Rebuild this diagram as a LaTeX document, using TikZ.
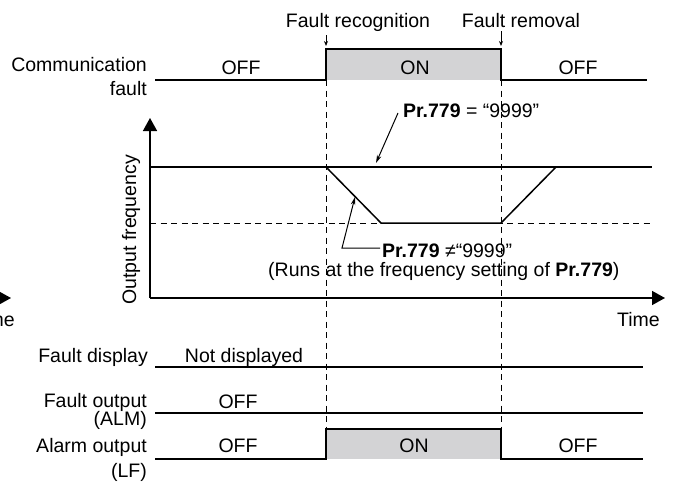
\documentclass[tikz,border=0pt]{standalone}
\usepackage{fontspec}
\setmainfont{Liberation Sans}
\usetikzlibrary{arrows.meta}
\definecolor{onfill}{RGB}{211,211,213}
\begin{document}
\begin{tikzpicture}[x=1pt, y=-1pt,
    lbl/.style={font=\fontsize{19.5}{22}\selectfont, inner sep=0pt},
    sig/.style={line width=1.5pt},
    guide/.style={line width=1pt, dash pattern=on 6pt off 4.5pt},
    axis/.style={line width=1.5pt, -{Triangle[length=13pt,width=14pt]}},
    note/.style={line width=1pt, -{Stealth[length=8pt,width=4.5pt]}},
    tick/.style={line width=1pt, -{Stealth[length=5pt,width=4pt]}}]
  \useasboundingbox (0,0) rectangle (674,482);
  % Event points
  \coordinate (rec) at (326,49);
  \coordinate (rem) at (501,49);
  \node[lbl, anchor=base] (reclbl) at (358,27) {Fault recognition};
  \node[lbl, anchor=base] (remlbl) at (521,27) {Fault removal};
  \draw[tick] ([yshift=-4pt]rec |- reclbl.south) -- ([yshift=3pt]rec);
  \draw[tick] ([yshift=-4pt]rem |- remlbl.south) -- ([yshift=3pt]rem);
  % Communication fault
  \fill[onfill] (326,49) rectangle (501,80);
  \draw[sig] (155,80) -- (326,80) -- (rec) -- (rem) -- (501,80) -- (647,80);
  \node[lbl, anchor=base east] (comm) at (147,71) {Communication};
  \node[lbl, anchor=base east] (commb) at (147,95) {fault};
  \node[lbl, anchor=base] (commoff) at (241,74) {OFF};
  \node[lbl, anchor=base] (common) at (415,74) {ON};
  \node[lbl, anchor=base] (commoff2) at (578,74) {OFF};
  % Guide lines
  \foreach \x in {326, 501} {
    \draw[guide] (\x,80) -- (\x,429);
  }
  % Output frequency
  \draw[guide] (150,223) -- (652,223);
  \draw[sig] (150,167) -- (652,167);
  \coordinate (flat) at (376,167);
  \coordinate (ramp) at (355,197);
  \draw[sig] (326,167) -- (381,223) -- (501,223) -- (556,167);
  \draw[axis] (150,298) -- (150,118);
  \draw[axis] (150,298) -- (665,298);
  \node[lbl, anchor=base, rotate=90] (freq) at (136,230) {Output frequency};
  \node[lbl, anchor=base east] (time) at (660,326) {Time};
  % Cut-off time axis at the left edge
  \draw[axis] (-40,298) -- (11,298);
  \node[lbl, anchor=base east] (time0) at (15,326) {Time};
  % Notes on Pr.779
  \node[lbl, anchor=base west] (eqlbl) at (403,117) {\textbf{Pr.779} = “9999”};
  \node[lbl, anchor=base west] (nelbl) at (382,257) {\textbf{Pr.779} ≠“9999”};
  \node[lbl, anchor=base west] (runs) at (268,276)
    {(Runs at the frequency setting of \textbf{Pr.779})};
  \draw[note] ([shift={(-5,-4)}]eqlbl.base west) -- ([yshift=4pt]flat);
  \draw[note] ([shift={(-2,-9)}]nelbl.base west) -- ++(-38,0) -- (ramp);
  % Fault display
  \draw[sig] (155,367) -- (643,367);
  \node[lbl, anchor=base east] (disp) at (148,362) {Fault display};
  \node[lbl, anchor=base] (displbl) at (244,362) {Not displayed};
  % Fault output (ALM)
  \draw[sig] (155,413) -- (643,413);
  \node[lbl, anchor=base east] (alm) at (147,407) {Fault output};
  \node[lbl, anchor=base east] (almb) at (147,425) {(ALM)};
  \node[lbl, anchor=base] (almoff) at (238,408) {OFF};
  % Alarm output (LF)
  \fill[onfill] (326,429) rectangle (501,459);
  \draw[sig] (155,459) -- (326,459) -- (326,429) -- (501,429) -- (501,459) -- (643,459);
  \node[lbl, anchor=base east] (lf) at (147,452) {Alarm output};
  \node[lbl, anchor=base east] (lfb) at (147,477) {(LF)};
  \node[lbl, anchor=base] (lfoff) at (238,452) {OFF};
  \node[lbl, anchor=base] (lfon) at (414,452) {ON};
  \node[lbl, anchor=base] (lfoff2) at (578,452) {OFF};
\end{tikzpicture}
\end{document}
